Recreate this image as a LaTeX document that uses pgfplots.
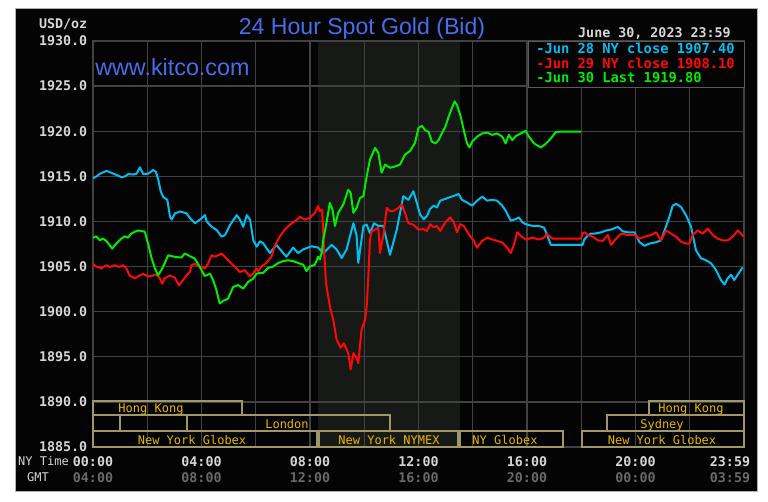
\documentclass[border=0pt]{standalone}
\usepackage{pgfplots}
\usepackage{pgfplotstable}
\pgfplotsset{compat=1.18}
\usepackage{fontspec}
\setmainfont{Liberation Sans}
\setmonofont{DejaVu Sans Mono}

\definecolor{bgblack}{RGB}{4,4,4}
\definecolor{nymex}{RGB}{23,25,23}
\definecolor{gridc}{RGB}{66,66,66}
\definecolor{ticktext}{RGB}{214,214,214}
\definecolor{gmttext}{RGB}{105,105,105}
\definecolor{titleblue}{RGB}{72,108,236}
\definecolor{jun28}{RGB}{0,190,240}
\definecolor{jun29}{RGB}{255,8,8}
\definecolor{jun30}{RGB}{0,236,0}
\definecolor{sessline}{RGB}{158,152,104}
\definecolor{sesstext}{RGB}{232,182,0}
\definecolor{legline}{RGB}{90,90,90}

\newcommand\monob{\ttfamily\bfseries\fontsize{10}{12}\selectfont}
\newcommand\monos{\ttfamily\fontsize{9}{11}\selectfont}

% Jun 28 (hour NY time, USD/oz)
\pgfplotstableread{
h p
0 1914.8
0.14 1915.0
0.26 1915.3
0.5 1915.6
0.63 1915.45
0.87 1915.15
1.06 1914.9
1.18 1915.0
1.30 1915.25
1.49 1915.2
1.61 1915.3
1.73 1916.0
1.85 1915.25
2.04 1915.3
2.22 1915.7
2.32 1915.5
2.41 1914.6
2.50 1913.3
2.59 1912.7
2.74 1912.4
2.84 1910.5
2.90 1910.2
3.02 1910.9
3.21 1911.1
3.45 1910.9
3.58 1910.35
3.76 1909.8
3.94 1910.2
4.13 1910.7
4.19 1910.0
4.38 1909.4
4.56 1909.05
4.74 1908.3
4.87 1908.5
5.05 1909.6
5.30 1910.7
5.42 1910.2
5.54 1909.4
5.67 1910.7
5.79 1910.2
5.91 1907.9
6.04 1907.2
6.15 1907.8
6.27 1907.6
6.52 1906.5
6.76 1907.4
7.01 1906.5
7.13 1906.1
7.38 1907.1
7.56 1906.5
7.75 1906.9
8.06 1907.25
8.30 1907.1
8.49 1906.5
8.80 1907.4
8.98 1906.9
9.17 1905.95
9.35 1906.9
9.60 1909.8
9.72 1908.4
9.78 1905.4
9.97 1909.5
10.09 1909.65
10.21 1908.7
10.36 1909.8
10.52 1909.5
10.70 1909.5
10.95 1906.3
11.20 1909.1
11.44 1912.8
11.63 1912.4
11.81 1913.35
11.94 1912.05
12.06 1910.75
12.19 1910.25
12.31 1910.6
12.43 1911.4
12.56 1911.75
12.68 1911.55
12.80 1912.3
12.99 1912.5
13.17 1912.7
13.36 1912.9
13.48 1913.05
13.60 1912.4
13.79 1912.1
13.98 1911.75
14.16 1912.3
14.35 1912.75
14.53 1912.3
14.72 1912.4
14.90 1912.3
15.09 1911.75
15.21 1911.2
15.40 1910.1
15.58 1910.25
15.70 1910.45
15.83 1909.9
15.95 1909.7
16.20 1909.5
16.44 1909.5
16.63 1909.3
16.73 1908.6
16.88 1907.4
18.05 1907.4
18.11 1908.0
18.23 1908.4
18.35 1908.65
18.49 1908.65
18.74 1908.8
18.92 1909.0
19.10 1909.1
19.35 1909.4
19.53 1908.9
19.72 1908.8
19.96 1908.8
20.15 1907.7
20.33 1907.3
20.52 1907.55
20.76 1907.7
20.94 1907.9
21.07 1909.0
21.25 1910.5
21.37 1911.75
21.50 1911.95
21.68 1911.6
21.87 1910.65
22.05 1909.4
22.23 1906.8
22.42 1905.9
22.60 1905.7
22.79 1905.35
22.97 1904.6
23.15 1903.5
23.28 1903.0
23.40 1903.7
23.52 1904.1
23.64 1903.5
23.77 1904.1
23.95 1904.9
}\junA

% Jun 29
\pgfplotstableread{
h p
0 1905.3
0.12 1905.0
0.31 1904.8
0.49 1905.15
0.62 1904.95
0.80 1905.15
0.98 1904.95
1.11 1905.15
1.23 1904.8
1.35 1904.0
1.54 1903.7
1.72 1904.0
1.85 1904.2
2.03 1903.9
2.21 1904.0
2.34 1904.15
2.46 1903.7
2.56 1903.1
2.64 1903.7
2.83 1904.0
3.01 1903.8
3.17 1902.9
3.32 1903.5
3.44 1904.0
3.57 1904.4
3.63 1905.15
3.75 1905.3
3.94 1905.0
4.12 1904.8
4.24 1905.3
4.37 1906.25
4.49 1906.1
4.61 1906.25
4.74 1906.45
4.86 1906.1
5.04 1905.5
5.23 1905.0
5.41 1904.4
5.60 1904.6
5.78 1903.9
5.90 1904.2
6.03 1904.8
6.09 1904.5
6.21 1905.0
6.39 1905.4
6.58 1906.1
6.70 1907.25
6.89 1908.35
7.07 1909.1
7.26 1909.65
7.44 1910.0
7.63 1910.5
7.81 1910.2
7.99 1910.4
8.18 1910.95
8.30 1911.7
8.36 1911.15
8.45 1911.3
8.51 1907.25
8.59 1903.2
8.67 1901.7
8.76 1900.2
8.86 1899.1
8.98 1896.9
9.13 1896.0
9.25 1896.5
9.41 1895.4
9.50 1893.6
9.60 1895.4
9.69 1895.05
9.78 1894.3
9.90 1898.0
10.03 1899.1
10.09 1900.6
10.15 1903.9
10.21 1908.0
10.27 1908.9
10.40 1909.1
10.52 1909.3
10.58 1906.5
10.70 1908.35
10.83 1911.5
10.95 1911.15
11.07 1911.15
11.26 1911.5
11.38 1911.9
11.50 1910.95
11.63 1909.8
11.81 1909.65
12.00 1909.1
12.19 1909.15
12.31 1908.95
12.43 1909.7
12.56 1909.35
12.68 1909.5
12.80 1908.95
12.99 1909.9
13.17 1910.45
13.30 1909.9
13.42 1908.8
13.54 1909.7
13.67 1909.5
13.85 1908.6
14.04 1907.85
14.16 1907.1
14.35 1907.85
14.53 1908.2
14.72 1908.0
14.90 1907.85
15.09 1907.65
15.27 1907.1
15.40 1906.5
15.52 1907.45
15.64 1908.8
15.77 1908.4
15.95 1908.0
16.20 1908.2
16.44 1908.0
16.63 1908.2
16.73 1908.6
16.94 1908.1
18.00 1908.1
18.05 1908.7
18.12 1908.8
18.25 1908.5
18.43 1908.3
18.61 1907.9
18.80 1907.85
18.98 1908.5
19.10 1907.4
19.29 1908.1
19.47 1908.65
19.72 1908.5
19.96 1908.5
20.15 1908.1
20.33 1908.3
20.58 1908.5
20.76 1908.8
20.94 1907.9
21.13 1909.0
21.31 1908.65
21.50 1908.3
21.68 1907.75
21.87 1907.55
21.99 1907.55
22.11 1908.5
22.29 1909.0
22.48 1908.65
22.66 1909.2
22.85 1908.5
23.03 1908.1
23.21 1907.9
23.40 1907.9
23.58 1908.3
23.77 1909.0
23.89 1908.65
23.98 1908.3
}\junB

% Jun 30
\pgfplotstableread{
h p
0 1908.2
0.12 1908.35
0.25 1907.9
0.37 1908.1
0.49 1907.85
0.62 1907.35
0.71 1907.0
0.86 1907.55
1.05 1908.1
1.17 1908.35
1.29 1908.2
1.41 1908.65
1.54 1908.85
1.66 1909.0
1.78 1908.95
1.91 1908.85
2.03 1907.55
2.15 1906.05
2.28 1904.8
2.40 1904.05
2.52 1904.6
2.64 1905.35
2.77 1906.25
2.89 1906.15
3.08 1906.05
3.26 1906.0
3.38 1906.45
3.57 1906.15
3.75 1905.9
3.94 1904.95
4.12 1903.95
4.31 1904.2
4.43 1903.5
4.55 1902.4
4.67 1900.9
4.80 1901.2
4.98 1901.45
5.17 1902.75
5.35 1902.95
5.54 1902.55
5.72 1903.3
5.90 1903.65
6.03 1904.2
6.15 1904.3
6.27 1904.3
6.46 1904.85
6.64 1905.0
6.83 1905.4
7.01 1905.6
7.19 1905.7
7.38 1905.6
7.56 1905.4
7.75 1905.2
7.87 1904.5
7.99 1905.0
8.18 1905.2
8.30 1906.1
8.36 1905.8
8.43 1906.5
8.49 1908.0
8.61 1909.85
8.73 1912.05
8.83 1911.3
8.92 1909.5
9.04 1910.95
9.23 1911.9
9.41 1913.5
9.50 1913.15
9.60 1910.95
9.72 1911.5
9.84 1912.6
9.97 1912.8
10.09 1915.0
10.21 1916.85
10.40 1918.15
10.52 1917.6
10.64 1915.4
10.77 1916.3
10.95 1915.95
11.14 1916.1
11.32 1916.3
11.50 1917.4
11.69 1917.8
11.87 1918.7
12.00 1920.35
12.12 1920.6
12.25 1920.1
12.37 1919.95
12.49 1918.85
12.62 1918.65
12.74 1919.0
12.86 1919.75
12.99 1920.5
13.11 1921.6
13.23 1922.55
13.33 1923.3
13.42 1922.9
13.54 1921.8
13.67 1920.1
13.79 1918.65
13.88 1918.2
13.98 1918.85
14.16 1919.4
14.35 1919.75
14.53 1919.85
14.72 1919.6
14.90 1919.75
15.09 1919.4
15.21 1918.65
15.33 1919.6
15.46 1919.0
15.58 1919.45
15.77 1919.75
15.95 1920.05
16.07 1919.4
16.26 1918.65
16.51 1918.2
16.69 1918.6
16.88 1919.2
17.06 1919.9
17.19 1919.95
17.99 1919.95
}\junC

\begin{document}
\begin{tikzpicture}
% background, 1 unit = 1 px of the 768x501 picture
\begin{scope}[x=0.75pt,y=-0.75pt,shift={(-69.75pt,335.25pt)}]
  \fill[white] (0,0) rectangle (768,501);
  \filldraw[fill=bgblack, draw=gray!60, line width=0.5pt] (15,8) rectangle (757,491);
  \fill[nymex] (318,41) rectangle (460,447);
\end{scope}

\begin{axis}[
  at={(0,0)}, anchor=south west,
  scale only axis,
  width=488.25pt, height=304.5pt,
  xmin=0, xmax=24,
  ymin=1885, ymax=1930,
  ytick={1885,1890,...,1930},
  xtick={0,2,...,22},
  xticklabels={{00:00\\\textcolor{gmttext}{04:00}},{},
    {04:00\\\textcolor{gmttext}{08:00}},{},
    {08:00\\\textcolor{gmttext}{12:00}},{},
    {12:00\\\textcolor{gmttext}{16:00}},{},
    {16:00\\\textcolor{gmttext}{20:00}},{},
    {20:00\\\textcolor{gmttext}{00:00}},{}},
  extra x ticks={24},
  extra x tick labels={{23:59\\\textcolor{gmttext}{03:59}}},
  extra x tick style={xticklabel style={xshift=-10.5pt}},
  grid=major,
  major grid style={draw=gridc, line width=1pt},
  axis line style={draw=gridc, line width=1pt},
  major tick length=0pt,
  xticklabel style={font=\monob, text=ticktext, align=center, anchor=north, inner sep=0pt, yshift=-6.75pt},
  yticklabel style={font=\monob, text=ticktext, anchor=east, inner sep=0pt, xshift=-4.1pt,
    /pgf/number format/fixed, /pgf/number format/fixed zerofill,
    /pgf/number format/precision=1, /pgf/number format/1000 sep={},
    /pgf/number format/assume math mode=true},
  every axis plot/.append style={line width=1.5pt, line join=round},
]
\addplot[jun28] table {\junA};
\addplot[jun29] table {\junB};
\addplot[jun30] table {\junC};
\end{axis}

\begin{scope}[x=0.75pt,y=-0.75pt,shift={(-69.75pt,335.25pt)}]
  % trading sessions
  \begin{scope}[draw=sessline, line width=1.2pt]
    \draw (93,401) rectangle (242,415);
    \draw (649,401) rectangle (744,415);
    \draw (93,415) rectangle (120,431);
    \draw (120,415) rectangle (187,431);
    \draw (187,415) rectangle (390,431);
    \draw (607,415) rectangle (744,431);
    \draw (93,431) rectangle (317,447);
    \draw (319,431) rectangle (458,447);
    \draw (460,431) rectangle (563,447);
    \draw (582,431) rectangle (744,447);
  \end{scope}
  \begin{scope}[every node/.style={anchor=base, inner sep=0pt, text=sesstext, font=\monos}]
    \node at (151,412) {Hong Kong};
    \node at (691,412) {Hong Kong};
    \node at (287,428) {London};
    \node at (662,428) {Sydney};
    \node at (192,444) {New York Globex};
    \node at (389,444) {New York NYMEX};
    \node at (505,444) {NY Globex};
    \node at (662,444) {New York Globex};
  \end{scope}

  % legend
  \filldraw[fill=bgblack, draw=legline, line width=0.75pt] (528,41) rectangle (744,87);
  \begin{scope}[every node/.style={anchor=base west, inner sep=0pt, font=\ttfamily\bfseries\fontsize{10.3}{12}\selectfont}]
    \node[text=jun28] at (536,53.5) {-Jun 28 NY close 1907.40};
    \node[text=jun29] at (536,68) {-Jun 29 NY close 1908.10};
    \node[text=jun30] at (536,82.5) {-Jun 30 Last 1919.80};
  \end{scope}

  % titles and labels
  \node[anchor=east, inner sep=0pt, text=ticktext, font=\monob] at (87.5,24.5) {USD/oz};
  \node[anchor=base, inner sep=0pt, text=titleblue, font=\fontsize{17.3}{20}\selectfont] at (362,35) {24 Hour Spot Gold (Bid)};
  \node[anchor=base west, inner sep=0pt, text=titleblue, font=\fontsize{17.5}{20}\selectfont] at (95,75) {www.kitco.com};
  \node[anchor=base east, inner sep=0pt, text=ticktext, font=\monob] at (731,37) {June 30, 2023 23:59};
  \node[anchor=base east, inner sep=0pt, text=ticktext, font=\monos] at (69,465.5) {NY Time};
  \node[anchor=base, inner sep=0pt, text=ticktext, font=\monos] at (38,481.5) {GMT};
\end{scope}
\end{tikzpicture}
\end{document}
